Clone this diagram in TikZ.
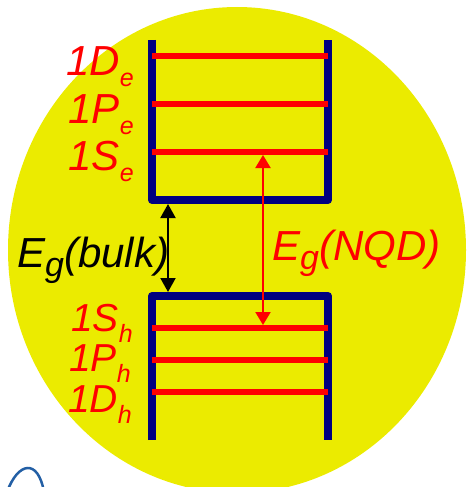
\documentclass[tikz,border=0pt]{standalone}
\usepackage{fontspec}
\setmainfont{Liberation Sans}
\usetikzlibrary{arrows.meta}
\definecolor{yel}{RGB}{235,235,0}
\definecolor{navyb}{RGB}{0,0,128}
\definecolor{logob}{RGB}{35,95,165}
\newcommand\lsub[1]{\raisebox{-11pt}{\fontsize{25}{25}\selectfont #1}}
\newcommand\gsub[1]{\raisebox{-9pt}{\fontsize{34}{34}\selectfont #1}}
\begin{document}
\begin{tikzpicture}[x=1pt,y=-1pt,
  band/.style={draw=navyb,line width=8pt,line join=round},
  level/.style={draw=red,line width=6pt},
  lbl/.style={text=red,font=\itshape\fontsize{42}{42}\selectfont,inner sep=0pt,anchor=base east},
  eglbl/.style={font=\itshape\fontsize{42}{42}\selectfont,inner sep=0pt,anchor=base west},
  gaparrow/.style={line width=2pt,{Triangle[width=15pt,length=14pt]}-{Triangle[width=15pt,length=14pt]}},
  qdarrow/.style={draw=red,line width=2pt,{Triangle[width=15pt,length=13pt]}-{Triangle[width=15pt,length=13pt]}}
]
\useasboundingbox (0,0) rectangle (467,487);
\begin{scope}
\clip (0,0) rectangle (467,487);
\fill[yel] (237,250) ellipse [x radius=229, y radius=243];
\draw[logob, line width=2.5pt] (7,492) .. controls (18,462) and (38,458) .. (44,492);
\end{scope}
% conduction band
\draw[band] (152,40) -- (152,200) -- (328,200) -- (328,40);
\draw[level] (152,56) -- (328,56);
\draw[level] (152,104) -- (328,104);
\draw[level] (152,152) -- (328,152);
% valence band
\draw[band] (152,440) -- (152,296) -- (328,296) -- (328,440);
\draw[level] (152,328) -- (328,328);
\draw[level] (152,360) -- (328,360);
\draw[level] (152,392) -- (328,392);
% labels
\node[lbl] (De) at (134,75) {1D\lsub{e}};
\node[lbl] (Pe) at (134,123) {1P\lsub{e}};
\node[lbl] (Se) at (134,170) {1S\lsub{e}};
\node[lbl,font=\itshape\fontsize{39}{39}\selectfont] (Sh) at (133,331) {1S\lsub{h}};
\node[lbl,font=\itshape\fontsize{39}{39}\selectfont] (Ph) at (131,371) {1P\lsub{h}};
\node[lbl,font=\itshape\fontsize{39}{39}\selectfont] (Dh) at (132,412) {1D\lsub{h}};
\node[eglbl,text=black] (bulk) at (17,267) {E\gsub{g}(bulk)};
\node[eglbl,text=red] (nqd) at (272,260) {E\gsub{g}(NQD)};
% arrows
\coordinate (cbmin) at (168,204);
\coordinate (vbmax) at (168,292);
\coordinate (se) at (263,155);
\coordinate (sh) at (263,325);
\draw[gaparrow] (cbmin) -- (vbmax);
\draw[qdarrow] (se) -- (sh);
\end{tikzpicture}
\end{document}
